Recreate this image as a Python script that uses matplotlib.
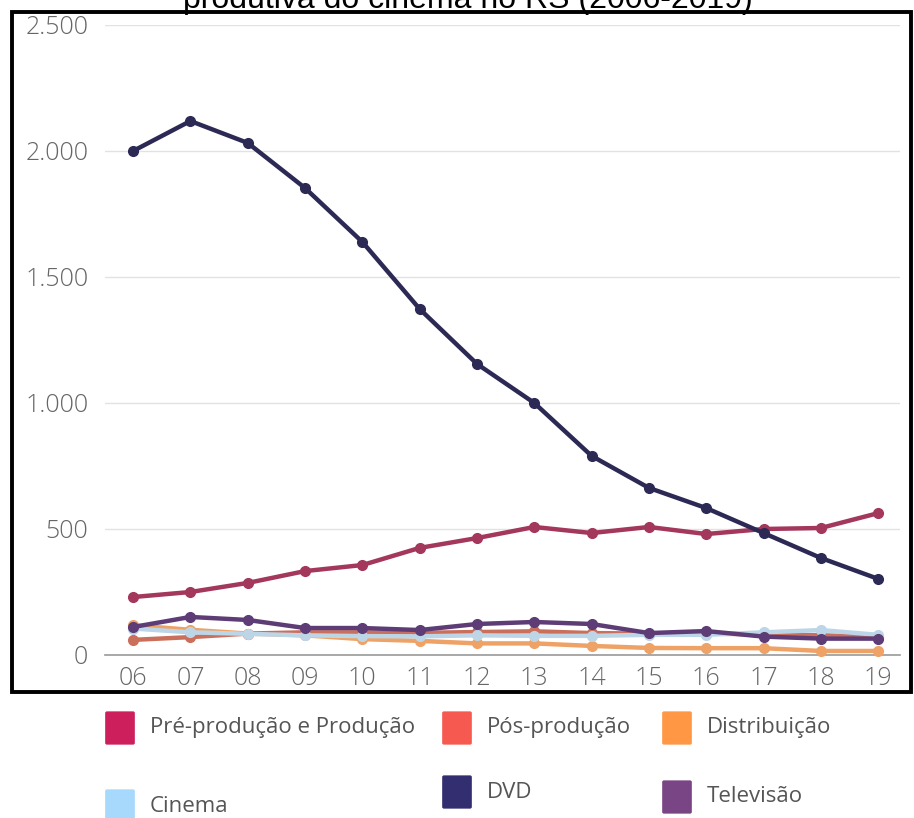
import matplotlib
matplotlib.use('Agg')
import matplotlib.pyplot as plt
from matplotlib.patches import Rectangle, FancyBboxPatch

years = ['06', '07', '08', '09', '10', '11', '12', '13', '14', '15', '16', '17', '18', '19']
pre_producao = [230, 250, 286, 333, 357, 425, 464, 508, 484, 508, 480, 500, 504, 563]
pos_producao = [60, 71, 85, 90, 90, 88, 91, 94, 87, 85, 85, 82, 78, 72]
distribuicao = [118, 100, 85, 78, 63, 56, 46, 46, 36, 28, 27, 27, 16, 16]
cinema = [105, 90, 84, 78, 75, 74, 78, 76, 76, 80, 80, 90, 99, 80]
dvd = [2000, 2119, 2032, 1853, 1639, 1373, 1155, 1000, 790, 663, 583, 484, 385, 302]
televisao = [111, 151, 139, 107, 107, 99, 123, 131, 123, 87, 95, 73, 65, 65]

yticks = [0, 500, 1000, 1500, 2000, 2500]
ytick_labels = ['0', '500', '1.000', '1.500', '2.000', '2.500']

# (label, legend colour, line colour, data) in drawing order
series = [
    ('Distribuição', '#ff9745', '#eea266', distribuicao),
    ('Pós-produção', '#f5594f', '#c96f5c', pos_producao),
    ('Cinema', '#a6d9fb', '#bcd6e8', cinema),
    ('Televisão', '#7a4585', '#5e3c76', televisao),
    ('Pré-produção e Produção', '#cc1f5c', '#a3375c', pre_producao),
    ('DVD', '#332e70', '#2c2a55', dvd),
]

W, H = 914, 818
fig = plt.figure(figsize=(W / 100, H / 100), dpi=100)
ax = fig.add_axes([105 / W, 1 - 655 / H, (900 - 105) / W, (655 - 25) / H])

x = list(range(len(years)))
for label, lc, col, vals in series:
    ax.plot(x, vals, color=col, lw=3.2, marker='o', ms=7, clip_on=False, zorder=3)

ax.set_xlim(-0.49, 13.38)
ax.set_ylim(0, 2500)
ax.set_yticks(yticks)
ax.set_yticklabels(ytick_labels)
ax.set_xticks(x)
ax.set_xticklabels(years)
for s in ['top', 'right', 'left']:
    ax.spines[s].set_visible(False)
ax.spines['bottom'].set_color('#999999')
ax.spines['bottom'].set_linewidth(1.2)
ax.grid(axis='y', color='#e2e2e2', lw=1)
ax.set_axisbelow(True)
ax.tick_params(length=0, labelcolor='#666666', labelsize=18)
ax.tick_params(axis='y', pad=12)
ax.tick_params(axis='x', pad=8)
for t in ax.get_xticklabels() + ax.get_yticklabels():
    t.set_family('Open Sans')
    t.set_fontweight('light')

# title (only lower part visible in the original)
fig.text(468 / W, 1 - 8 / H, 'produtiva do cinema no RS (2006-2019)', ha='center', va='baseline',
         fontsize=23, family='Liberation Sans', color='black')

# frame
fig.patches.append(Rectangle((12 / W, 1 - 692 / H), (911 - 12) / W, (692 - 12) / H,
                             transform=fig.transFigure, fill=False, ec='black', lw=2.8, zorder=10))

# legend, drawn by hand
legend_pos = {
    'Pré-produção e Produção': (105, 728),
    'Pós-produção': (442, 728),
    'Distribuição': (662, 728),
    'Cinema': (105, 806),
    'DVD': (442, 792),
    'Televisão': (662, 797),
}
for label, lc, col, vals in series:
    px, py = legend_pos[label]
    fig.patches.append(FancyBboxPatch(((px + 2) / W, 1 - (py + 15) / H), 26 / W, 30 / H,
                                      boxstyle='round,pad=0.002', transform=fig.transFigure,
                                      fc=lc, ec='none'))
    fig.text((px + 45) / W, 1 - py / H, label, ha='left', va='center', fontsize=16,
             family='Open Sans', color='#555555')

fig.savefig('out.png', dpi=100)
